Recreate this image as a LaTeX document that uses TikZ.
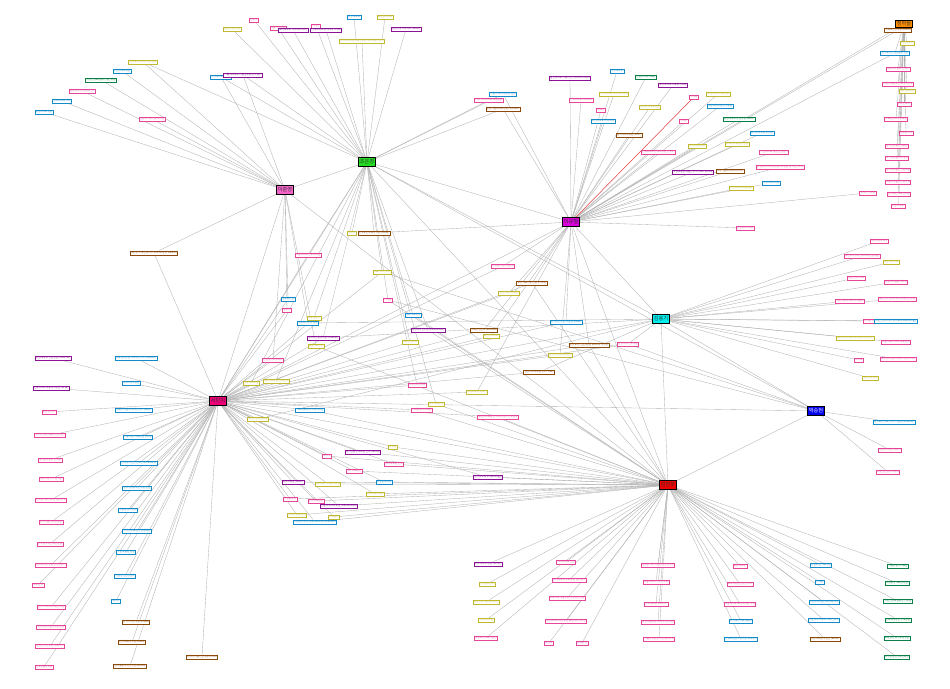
\documentclass[tikz,border=0pt]{standalone}
\usepackage{fontspec}
\setmainfont{Noto Sans CJK KR}
\usetikzlibrary{backgrounds}

\definecolor{cpink}{RGB}{228,70,152}
\definecolor{colive}{RGB}{192,184,48}
\definecolor{cblue}{RGB}{20,138,200}
\definecolor{cpurple}{RGB}{138,20,148}
\definecolor{cbrown}{RGB}{140,74,10}
\definecolor{cgreen}{RGB}{10,128,72}
\definecolor{hgreen}{RGB}{34,220,34}
\definecolor{hpink}{RGB}{242,100,200}
\definecolor{hmag}{RGB}{218,0,218}
\definecolor{hcyan}{RGB}{0,238,238}
\definecolor{hrose}{RGB}{240,0,120}
\definecolor{hred}{RGB}{238,0,0}
\definecolor{hblue}{RGB}{0,0,238}
\definecolor{horange}{RGB}{255,140,0}

\tikzset{
  link/.style={draw=black!30, line width=0.35pt},
  leaf/.style={draw, fill=white, line width=0.55pt, inner sep=0.8pt,
    font=\fontsize{2.6}{3}\selectfont},
  lpink/.style={leaf, draw=cpink, text=cpink},
  lolive/.style={leaf, draw=colive, text=colive},
  lblue/.style={leaf, draw=cblue, text=cblue},
  lpurple/.style={leaf, draw=cpurple, text=cpurple},
  lbrown/.style={leaf, draw=cbrown, text=cbrown},
  lgreen/.style={leaf, draw=cgreen, text=cgreen},
  hub/.style={draw=black, line width=0.75pt, inner xsep=1.4pt, inner ysep=1.9pt,
    font=\fontsize{5.2}{6}\selectfont},
}

\begin{document}
\begin{tikzpicture}[x=1pt,y=-1pt]
\useasboundingbox (0,0) rectangle (950,688);
% hubs
\node[hub, fill=hgreen, text=black!80] (g) at (367,162) {조은경};
\node[hub, fill=hpink, text=black!80] (p) at (285,190) {이준영};
\node[hub, fill=hmag, text=black!80] (m) at (571,222) {이규철};
\node[hub, fill=hcyan, text=black!80] (c) at (661,319) {김용기};
\node[hub, fill=hrose, text=black!80] (r) at (218,401) {서민지};
\node[hub, fill=hred, text=black!80] (rd) at (668,485) {김진우};
\node[hub, fill=hblue, text=white] (b) at (816,411) {박승현};
\node[hub, fill=horange, text=black!80, inner ysep=1.2pt] (o) at (904,24) {정하늘};
% hub to hub
\begin{pgfonlayer}{background}
\foreach \ha/\hb in {g/r,g/rd,g/m,g/c,g/b,p/r,p/g,p/rd,m/r,m/rd,m/c,c/r,c/rd,c/b,b/r,b/rd,o/m,r/rd}
  \draw[link] (\ha) -- (\hb);
\end{pgfonlayer}
% leaves
\foreach \nm/\x/\y/\sty/\hs/\lab in {
  % top, round the green hub
  t1/232/29/lolive/g/환경정책연구원,
  t2/254/20/lpink/g/김민수,
  t3/278/28/lpink/g/서울아산병원,
  t4/293/30/lpurple/g/고려대학교 의과대학 (KU),
  t5/316/26/lpink/g/이서연,
  t6/326/30/lpurple/g/연세대학교 공과대학 (YSU),
  t7/354/17/lblue/g/한양대학교,
  t8/385/17/lolive/g/포항공과대학,
  t9/362/41/lolive/g/한국과학기술정보연구원 데이터분석센터,
  t10/406/29/lpurple/g/성균관대 약학대학 (SKKU),
  % top left
  u1/143/62/lolive/{g,p}/한국보건사회연구원 본원,
  u2/122/71/lblue/p/부산대학교병원,
  u3/101/80/lgreen/p/국민건강보험공단 일산병원,
  u4/82/91/lpink/p/질병관리청 감염병연구,
  u5/62/101/lblue/p/경희대학교 의대,
  u6/44/112/lblue/p/충남대학교병원,
  u7/152/119/lpink/p/강원대 의학전문대학원,
  v1/221/77/lblue/{p,g}/인하대학교 의료원,
  v2/243/75/lpurple/{p,g}/가톨릭대학교 서울성모병원 (CMC),
  % round the magenta hub
  a1/570/78/lpurple/m/울산대학교 서울아산의과대학 (UOU),
  a2/617/71/lblue/m/아주대학교,
  a3/646/77/lgreen/m/한림대학교의료원,
  a4/673/85/lpurple/m/중앙대학교 의료원 (CAU),
  a5/503/94/lblue/{g,m}/서울시 보라매병원 본원,
  a6/489/100/lpink/g/이화여자대학교 목동병원,
  a7/503/109/lbrown/{g,m}/분당서울대학교병원 (SNUBH),
  a8/581/100/lpink/m/건국대학교 의과대학,
  a9/614/94/lolive/m/단국대학교 치과대학 병원,
  a10/650/107/lolive/m/순천향대학교병원,
  a11/694/97/lpink/m/박지훈,
  a12/720/106/lblue/m/계명대학교 동산의료원,
  a13/718/94/lolive/m/영남대학교 의료원장,
  a14/601/110/lpink/m/최유진,
  a15/684/121/lpink/m/정다은,
  a16/603/121/lblue/m/조선대학교 의과대학,
  a17/739/119/lgreen/m/원광대학교 한방병원 (WKU),
  a18/629/135/lbrown/m/을지대학교병원 (EMC),
  a19/762/133/lblue/m/동아대학교병원 본원,
  a20/658/152/lpink/m/인제대학교 상계백병원 연구소,
  a21/697/146/lolive/m/제주대학교병원,
  a22/737/144/lolive/m/충북대학교병원 본원,
  a23/774/152/lpink/m/가천대학교 길병원 암센터,
  a24/780/167/lpink/m/한국원자력의학원 원자력병원 방사선연구소,
  a25/693/172/lpurple/m/국립재활원 재활연구소 (NRC Korea),
  a26/730/171/lbrown/m/대구가톨릭대학교 (DCU),
  a27/771/183/lblue/m/차의과학대학교,
  a28/741/188/lolive/m/고신대학교 복음병원,
  a29/745/228/lpink/m/한양대구리병원,
  % right column, orange hub
  e1/898/30/lbrown/{o,m}/국립보건연구원 (KNIH),
  e2/907/43/lolive/o/대한의학회,
  e3/895/53/lblue/{o,m}/한국보건산업진흥원 본원,
  e4/898/69/lpink/o/대한의사협회 연구소,
  e5/898/84/lpink/o/대한간호협회 간호정책연구,
  e6/907/91/lolive/o/대한병원협회,
  e7/904/104/lpink/o/장하은 교수,
  e8/896/119/lpink/o/의료분쟁조정중재원,
  e9/906/133/lpink/o/임도윤 박사,
  e10/897/146/lpink/o/한국건강증진개발원,
  e11/897/158/lpink/o/국가생명윤리정책원,
  e12/898/170/lpink/o/한국의약품안전관리원,
  e13/898/182/lpink/o/식품의약품안전평가원,
  e14/868/193/lpink/m/한지민 연구원,
  e15/899/194/lpink/o/한국보건의료연구원,
  e16/898/206/lpink/o/강현우 교수,
  % right middle, cyan hub
  k1/879/241/lpink/c/대한내과학회지,
  k2/891/262/lolive/c/대한외과학회,
  k3/862/256/lpink/c/대한소아청소년과학회 편집위원,
  k4/856/278/lpink/c/대한영상의학회,
  k5/896/282/lpink/c/대한마취통증의학회,
  k6/850/301/lpink/c/대한정형외과학회 학술위,
  k7/897/299/lpink/c/대한산부인과학회 부인종양연구회,
  k8/869/321/lpink/c/이하윤 외,
  k9/896/321/lblue/c/대한신경과학회 (Korean Neurology),
  k10/855/338/lolive/c/대한피부과학회 피부질환연구센터,
  k12/896/342/lpink/c/대한비뇨의학회 배뇨장애,
  k13/859/360/lpink/c/최지호,
  k14/898/359/lpink/c/대한이비인후과학회 두경부외과,
  k15/870/378/lolive/c/대한안과학회,
  % blue hub
  q1/894/422/lblue/b/한국보건의료인국가시험원 (KHPLEI),
  q2/890/450/lpink/b/대한의학유전학회지,
  q3/888/472/lpink/b/대한진단검사의학회,
  % bottom right, red hub
  w1/898/566/lgreen/rd/서울특별시의료원,
  w2/897/583/lgreen/rd/국립중앙의료원 본원,
  w3/898/601/lgreen/rd/국민건강보험공단 연구원,
  w4/898/620/lgreen/rd/근로복지공단 산재병원,
  w5/897/638/lgreen/rd/보훈공단 중앙보훈병원,
  w6/897/657/lgreen/rd/한국산업안전보건공단,
  w7/821/565/lblue/rd/경찰병원 의료지원,
  w8/820/582/lblue/rd/신예준,
  w9/824/602/lblue/rd/국군수도병원 외래 (AFCH),
  w10/824/620/lblue/rd/국군의무사령부 의학연구소,
  w11/825/639/lbrown/rd/국방의학원 추진단 (KDMI),
  w12/740/566/lpink/rd/송민재 교수,
  w13/740/584/lpink/rd/보라매병원 임상연구소,
  w14/740/604/lpink/rd/서울대학교 보건대학원 역학,
  w15/741/621/lblue/rd/한국보건의료정보원,
  w16/741/639/lblue/rd/건강보험심사평가원 빅데이터,
  w17/658/565/lpink/rd/질병관리청 국립감염병연구소,
  w18/656/582/lpink/rd/서울대학교 의학연구원,
  w19/656/604/lpink/rd/연세의료원 세브란스,
  w20/658/622/lpink/rd/삼성서울병원 미래의학연구원,
  w21/659/639/lpink/rd/서울아산병원 아산생명과학,
  w22/566/562/lpink/rd/고려대학교 안암,
  w23/569/580/lpink/rd/고려대학교 구로병원 임상센터,
  w24/567/598/lpink/rd/이화여대 서울병원 의생명연구원,
  w25/566/621/lpink/rd/중앙대학교 광명병원 융합의학연구원,
  w26/549/643/lpink/rd/문지아,
  w27/582/643/lpink/rd/권태윤 외,
  w28/488/564/lpurple/rd/아주대학교 병원 (AJOU),
  w29/487/584/lolive/rd/연구윤리센터,
  w30/486/602/lolive/rd/임상연구지원센터 본부,
  w31/486/620/lolive/rd/의생명연구원,
  w32/486/638/lpink/rd/공공보건의료사업단,
  % left column, rose hub
  s1/53/358/lpurple/r/한림대학교 성심병원 (HALLYM),
  s2/136/358/lblue/r/강북삼성병원 코호트연구소 (KBSMC),
  s3/131/383/lblue/r/대구파티마병원,
  s4/51/388/lpurple/r/인제대학교 해운대백병원 (INJE),
  s5/49/412/lpink/r/홍성민 박사,
  s6/134/410/lblue/r/대한의사협회 정책연구소 (RIHP),
  s7/50/435/lpink/r/한국건강관리협회 건강검진,
  s8/138/437/lblue/r/서울시립 서북병원 연구실,
  s9/50/460/lpink/r/대한결핵협회 연구원,
  s10/139/463/lblue/r/한국방사선안전재단 (KORSAFE),
  s11/51/479/lpink/r/대한적십자사 혈액원,
  s12/137/488/lblue/r/한국생명공학연구원 본원,
  s13/51/500/lpink/r/한국한의학연구원 임상연구,
  s14/128/510/lblue/r/국립암센터 본원,
  s15/51/522/lpink/r/한국식품연구원 본원,
  s16/137/531/lblue/r/국가암정보센터 암등록팀,
  s17/50/544/lpink/r/한국원자력연구원 본원,
  s18/126/552/lblue/r/국립재활원 병원,
  s19/51/565/lpink/r/한국화학연구원 안전성평가,
  s20/38/585/lpink/r/이도현 외,
  s21/125/576/lblue/r/국립정신건강센터,
  s22/51/607/lpink/r/한국기초과학지원연구원,
  s23/116/601/lblue/r/배수아,
  s24/51/627/lpink/r/한국생산기술연구원 본원,
  s25/50/646/lpink/r/한국전기연구원 의료기기,
  s26/44/667/lpink/r/전자부품연구원,
  s27/136/622/lbrown/r/한국기계연구원 (KIMM),
  s28/132/642/lbrown/r/한국재료연구원 (KIMS),
  s29/130/666/lbrown/r/한국표준과학연구원 (KRISS),
  s30/202/657/lbrown/r/한국전자통신연구원 (ETRI),
  % centre
  z1/154/253/lbrown/{p,r}/대한민국 보건복지부 (Ministry of Health),
  z2/308/255/lpink/{g,r}/서울대학교 간호대학원,
  z3/352/233/lolive/g/정은우,
  z4/374/233/lbrown/{g,m}/한국보건의료정책원 (KHIDI),
  z5/382/272/lolive/{g,r,b}/의료기기연구소,
  z6/503/266/lpink/{m,r}/생명윤리심의위원회,
  z7/532/283/lbrown/{m,r,rd}/보건의료기술 진흥 (HTDP),
  z8/509/293/lolive/{m,r}/임상시험지원센터,
  z10/288/299/lblue/{p,r}/정보통신팀,
  z11/287/310/lpink/{p,r}/황민서,
  z12/314/318/lolive/{g,r}/의료질향상,
  z13/388/300/lpink/{g,rd,b}/서지원,
  z14/413/315/lblue/{g,rd}/의료정보학과,
  z15/308/323/lblue/{p,c}/의공학연구소 본부,
  z16/323/338/lpurple/{g,r,c}/의과학전문대학원 (GSMSE),
  z17/316/346/lolive/{p,rd}/융합의학연구,
  z18/428/330/lpurple/{g,rd}/생명과학연구원 (Bioscience),
  z19/410/342/lolive/{g,r}/의료경영학과,
  z20/484/330/lbrown/{m,r}/의료산업경제 (KIHASA),
  z21/491/336/lolive/{m,r}/보건정책학과,
  z22/566/322/lblue/{m,r}/한국뇌연구원 뇌질환 (KBRI),
  z23/589/345/lbrown/{m,r,rd}/한국보건산업진흥원 (KHIDI) 사업단,
  z24/628/344/lpink/{c,r,b}/임상역학 연구부문,
  z25/560/355/lolive/{m,r}/임상의학연구소 본부,
  z26/539/372/lbrown/{c,r}/임상약리학교실 (CPT Lab),
  z27/273/360/lpink/{p,r}/진단검사의학과장,
  z28/251/383/lolive/{g,r}/가정의학교실,
  z29/276/381/lolive/{g,r}/예방의학교실 연구실장,
  z30/417/385/lpink/{g,r}/소아청소년과학,
  z31/477/392/lolive/{m,r}/내과학교실 소화기,
  z32/436/404/lolive/{g,rd}/외과학교실장,
  z33/422/410/lpink/{r,rd}/마취통증의학교실,
  z34/310/410/lblue/{r,rd}/의료정보센터 빅데이터팀,
  z35/498/417/lpink/{r,rd}/응급의학교실 권역외상센터 연구팀장,
  z36/258/419/lolive/{r,c}/정신건강의학교실,
  z37/393/447/lolive/{r,rd}/류하준,
  z38/363/452/lpurple/{r,rd}/방사선종양학교실 연구 (KROG),
  z39/327/456/lpink/{r,rd}/노시우,
  z40/394/464/lpink/{r,rd}/병리학교실 연구,
  z41/354/471/lpink/{r,rd}/약리학교실장,
  z42/488/477/lpurple/{r,rd}/생리학교실 (Physiology),
  z43/293/482/lpurple/{r,rd}/해부학교실 (ANAT),
  z44/328/484/lolive/{r,rd}/생화학분자생물학교실,
  z45/384/482/lblue/{r,rd}/미생물학교실,
  z46/290/499/lpink/{r,rd}/기생충학과,
  z47/316/501/lpink/{r,rd}/면역학교실장,
  z48/375/494/lolive/{r,rd}/의학교육학교실,
  z49/339/506/lpurple/{r,rd}/인문사회의학교실 (Humanities),
  z50/297/515/lolive/{r,rd}/법의학교실 분원,
  z51/334/517/lolive/{r,rd}/의료윤리,
  z52/315/522/lblue/{r,rd}/의생명과학과 (Biomedical Sciences)
}{
  \node[\sty] (\nm) at (\x,\y) {\lab};
  \begin{pgfonlayer}{background}
    \foreach \h in \hs {\draw[link] (\h) -- (\nm);}
  \end{pgfonlayer}
}
% the one red link
\begin{pgfonlayer}{background}
\draw[link, draw=red!85] (m) -- (a11);
\end{pgfonlayer}
\end{tikzpicture}
\end{document}
